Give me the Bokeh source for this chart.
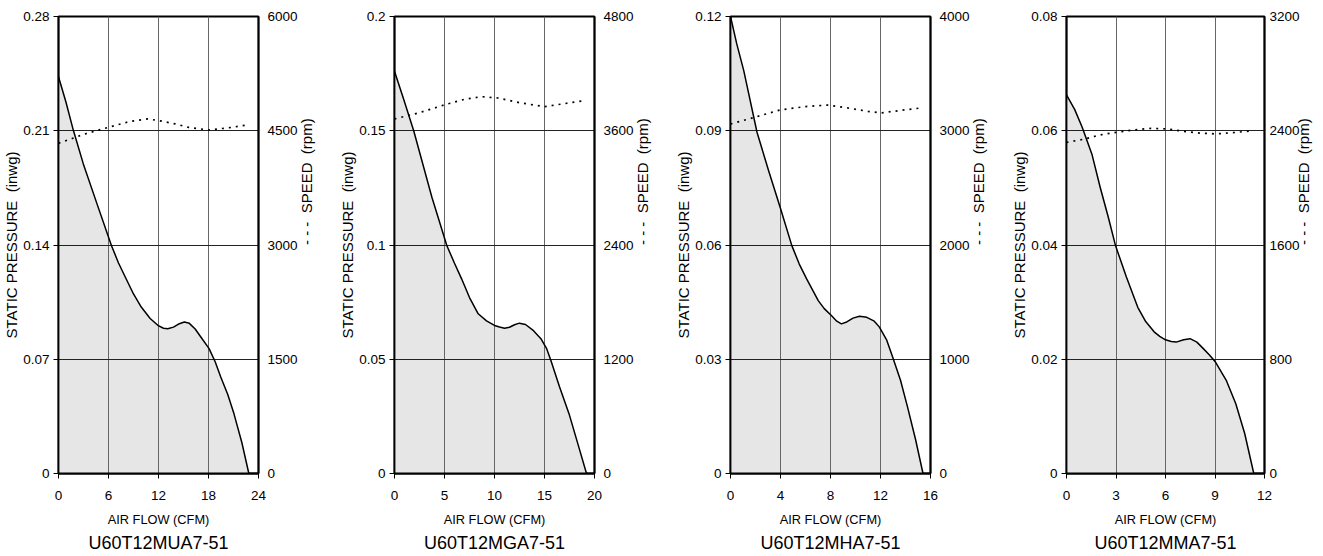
import math
from bokeh.plotting import figure
from bokeh.layouts import row
from bokeh.models import Range1d, LinearAxis, FixedTicker, CustomJSTickFormatter, Title
from bokeh.embed import file_html
from bokeh.resources import INLINE

# ---------------- data ----------------
titles = ["U60T12MUA7-51", "U60T12MGA7-51", "U60T12MHA7-51", "U60T12MMA7-51"]

x_ticks = [[0, 6, 12, 18, 24], [0, 5, 10, 15, 20], [0, 4, 8, 12, 16], [0, 3, 6, 9, 12]]
p_ticks = [[0, 0.07, 0.14, 0.21, 0.28], [0, 0.05, 0.1, 0.15, 0.2],
           [0, 0.03, 0.06, 0.09, 0.12], [0, 0.02, 0.04, 0.06, 0.08]]
s_ticks = [[0, 1500, 3000, 4500, 6000], [0, 1200, 2400, 3600, 4800],
           [0, 1000, 2000, 3000, 4000], [0, 800, 1600, 2400, 3200]]

# static pressure curves (inwg) vs air flow (CFM)
flow1 = [0, 0.9, 1.79, 2.98, 4.6, 6.35, 7.2, 8.14, 9.0, 9.93, 11.0, 11.92, 12.6, 13.11, 13.8, 14.5, 15.1, 15.7, 16.4, 17.08, 18.07, 18.8, 19.47, 20.3, 21.05, 22.0, 22.84]
pres1 = [0.2431, 0.2275, 0.2101, 0.1897, 0.1655, 0.1397, 0.1290, 0.1190, 0.1100, 0.1020, 0.0950, 0.0908, 0.0890, 0.0887, 0.0897, 0.0918, 0.0928, 0.0920, 0.0885, 0.0836, 0.0765, 0.0685, 0.0591, 0.0485, 0.0367, 0.0190, 0.0]

flow2 = [0, 0.9, 1.92, 3.74, 5.23, 6.0, 6.71, 7.5, 8.37, 9.2, 10.0, 10.5, 11.0, 11.5, 12.0, 12.49, 13.1, 13.9, 14.64, 15.2, 15.64, 16.5, 17.45, 18.3, 19.2]
pres2 = [0.176, 0.164, 0.150, 0.1209, 0.0998, 0.0920, 0.0852, 0.0770, 0.0699, 0.0668, 0.0648, 0.0641, 0.0636, 0.0640, 0.0651, 0.0658, 0.0652, 0.0625, 0.0590, 0.0548, 0.0495, 0.0380, 0.0262, 0.0135, 0.0]

flow3 = [0, 0.5, 1.06, 2.12, 3.05, 3.97, 4.9, 5.5, 6.09, 7.02, 7.5, 8.07, 8.5, 8.87, 9.3, 9.8, 10.32, 10.9, 11.5, 11.9, 12.5, 12.97, 13.6, 14.16, 14.8, 15.4]
pres3 = [0.12, 0.1128, 0.1058, 0.0896, 0.0795, 0.0699, 0.0599, 0.0550, 0.0511, 0.0454, 0.0433, 0.0415, 0.0400, 0.0393, 0.0398, 0.0408, 0.0413, 0.0410, 0.0400, 0.0385, 0.0350, 0.0306, 0.0245, 0.0175, 0.0090, 0.0]

flow4 = [0, 0.5, 0.95, 1.54, 2.04, 2.53, 2.97, 3.63, 4.32, 4.8, 5.31, 5.65, 6.0, 6.35, 6.65, 7.1, 7.49, 7.9, 8.28, 8.65, 9.03, 9.7, 10.26, 10.8, 11.35]
pres4 = [0.0663, 0.0637, 0.0606, 0.0559, 0.0501, 0.0449, 0.0399, 0.0344, 0.0291, 0.0266, 0.0248, 0.0240, 0.0234, 0.0231, 0.0230, 0.0234, 0.0236, 0.0230, 0.0219, 0.0208, 0.0195, 0.0162, 0.0122, 0.0070, 0.0]

# fan speed curves (rpm) vs air flow (CFM)
sflow1 = [0, 3.18, 6.0, 8.5, 10.73, 12.1, 14.0, 15.6, 18.0, 20.5, 22.65]
speed1 = [4335, 4458, 4545, 4620, 4655, 4632, 4590, 4545, 4510, 4540, 4576]

sflow2 = [0, 2.5, 5.06, 7.0, 8.7, 10.35, 12.5, 14.98, 17.0, 18.95]
speed2 = [3724, 3790, 3874, 3930, 3958, 3944, 3895, 3853, 3885, 3916]

sflow3 = [0, 2.0, 3.97, 6.0, 7.81, 9.4, 11.0, 12.04, 13.6, 15.21]
speed3 = [3059, 3120, 3182, 3212, 3225, 3199, 3170, 3156, 3178, 3199]

sflow4 = [0, 1.15, 2.0, 3.0, 4.0, 5.11, 6.1, 7.0, 7.88, 9.07, 10.2, 11.35]
speed4 = [2319, 2343, 2370, 2389, 2405, 2417, 2413, 2398, 2385, 2378, 2388, 2401]

flows = [flow1, flow2, flow3, flow4]
pressures = [pres1, pres2, pres3, pres4]
sflows = [sflow1, sflow2, sflow3, sflow4]
speeds = [speed1, speed2, speed3, speed4]

x_label = "AIR FLOW (CFM)"
y_label = "STATIC PRESSURE\u00a0 (inwg)"
y2_label = "- - -\u00a0 SPEED\u00a0 (rpm)"

TICK_FONT = "'Liberation Sans Narrow', 'Liberation Sans', sans-serif"
LABEL_FONT = "'Liberation Sans', sans-serif"

fmt_code = "return String(Math.round(tick * 1e6) / 1e6);"


def make_panel(i, width, last=False):
    xt, pt, st = x_ticks[i], p_ticks[i], s_ticks[i]
    left = 56
    p = figure(width=width, height=556, output_backend="svg", toolbar_location=None,
               x_range=Range1d(xt[0], xt[-1]), y_range=Range1d(pt[0], pt[-1]),
               min_border_left=left, min_border_right=width - left - 202,
               min_border_top=16, min_border_bottom=83,
               x_axis_location="below", y_axis_location="left")
    p.extra_y_ranges = {"speed": Range1d(st[0], st[-1])}
    p.outline_line_color = "black"
    p.outline_line_width = 1.8
    p.outline_line_alpha = 1
    p.background_fill_color = "white"
    p.border_fill_color = "white"

    # fill and curves
    p.varea(x=flows[i], y1=[0] * len(flows[i]), y2=pressures[i], fill_color="#e6e6e6", level="image")
    p.line(flows[i], pressures[i], line_color="black", line_width=1.5, line_join="round")
    p.line(sflows[i], speeds[i], y_range_name="speed", line_color="black", line_width=1.7, line_dash="2 5")

    # grids
    p.xgrid.ticker = FixedTicker(ticks=xt)
    p.ygrid.ticker = FixedTicker(ticks=pt)
    p.xgrid.grid_line_color = "#666666"
    p.ygrid.grid_line_color = "#222222"
    p.xgrid.grid_line_width = 1
    p.ygrid.grid_line_width = 1

    # x axis
    xa = p.xaxis[0]
    xa.ticker = FixedTicker(ticks=xt)
    xa.formatter = CustomJSTickFormatter(code=fmt_code)
    xa.axis_label = x_label
    xa.axis_line_color = "black"
    xa.axis_line_width = 2
    xa.major_tick_out = 5
    xa.major_tick_in = 0
    xa.minor_tick_out = 0
    xa.minor_tick_in = 0
    xa.major_tick_line_color = "black"
    xa.major_label_standoff = 12
    xa.axis_label_standoff = 9
    xa.major_label_text_font = TICK_FONT
    xa.major_label_text_font_size = "13.5px"
    xa.major_label_text_color = "black"
    xa.axis_label_text_font = TICK_FONT
    xa.axis_label_text_font_size = "12.8px"
    xa.axis_label_text_font_style = "normal"
    xa.axis_label_text_color = "black"

    # left axis
    ya = p.yaxis[0]
    ya.ticker = FixedTicker(ticks=pt)
    ya.formatter = CustomJSTickFormatter(code=fmt_code)
    ya.axis_label = y_label
    ya.axis_line_color = "black"
    ya.axis_line_width = 1.8
    ya.major_tick_out = 5
    ya.major_tick_in = 0
    ya.minor_tick_out = 0
    ya.minor_tick_in = 0
    ya.major_tick_line_color = "black"
    ya.major_label_standoff = 4
    ya.axis_label_standoff = 0
    ya.major_label_text_font = TICK_FONT
    ya.major_label_text_font_size = "13.5px"
    ya.major_label_text_color = "black"
    ya.axis_label_text_font = LABEL_FONT
    ya.axis_label_text_font_size = "15px"
    ya.axis_label_text_font_style = "normal"
    ya.axis_label_text_color = "black"

    # right axis (speed)
    ra = LinearAxis(y_range_name="speed", ticker=FixedTicker(ticks=st),
                    formatter=CustomJSTickFormatter(code=fmt_code),
                    axis_label=y2_label)
    ra.axis_label_orientation = math.pi / 2
    ra.axis_line_color = "black"
    ra.axis_line_width = 1.8
    ra.major_tick_out = 0
    ra.major_tick_in = 0
    ra.minor_tick_out = 0
    ra.minor_tick_in = 0
    ra.major_label_standoff = 5 if last else 9
    ra.axis_label_standoff = 1 if last else 6
    ra.major_label_text_font = TICK_FONT
    ra.major_label_text_font_size = "13.5px"
    ra.major_label_text_color = "black"
    ra.axis_label_text_font = LABEL_FONT
    ra.axis_label_text_font_size = "15px"
    ra.axis_label_text_font_style = "normal"
    ra.axis_label_text_color = "black"
    p.add_layout(ra, "right")

    t = Title(text=titles[i], align="center", text_font=LABEL_FONT,
              text_font_size="18px", text_font_style="normal", text_color="black",
              standoff=3, offset=0)
    p.add_layout(t, "below")
    return p


widths = [336, 336, 336, 315]
panels = [make_panel(i, w, last=(i == 3)) for i, w in enumerate(widths)]
layout = row(*panels, spacing=0)

with open("out.html", "w") as f:
    f.write(file_html(layout, INLINE))
